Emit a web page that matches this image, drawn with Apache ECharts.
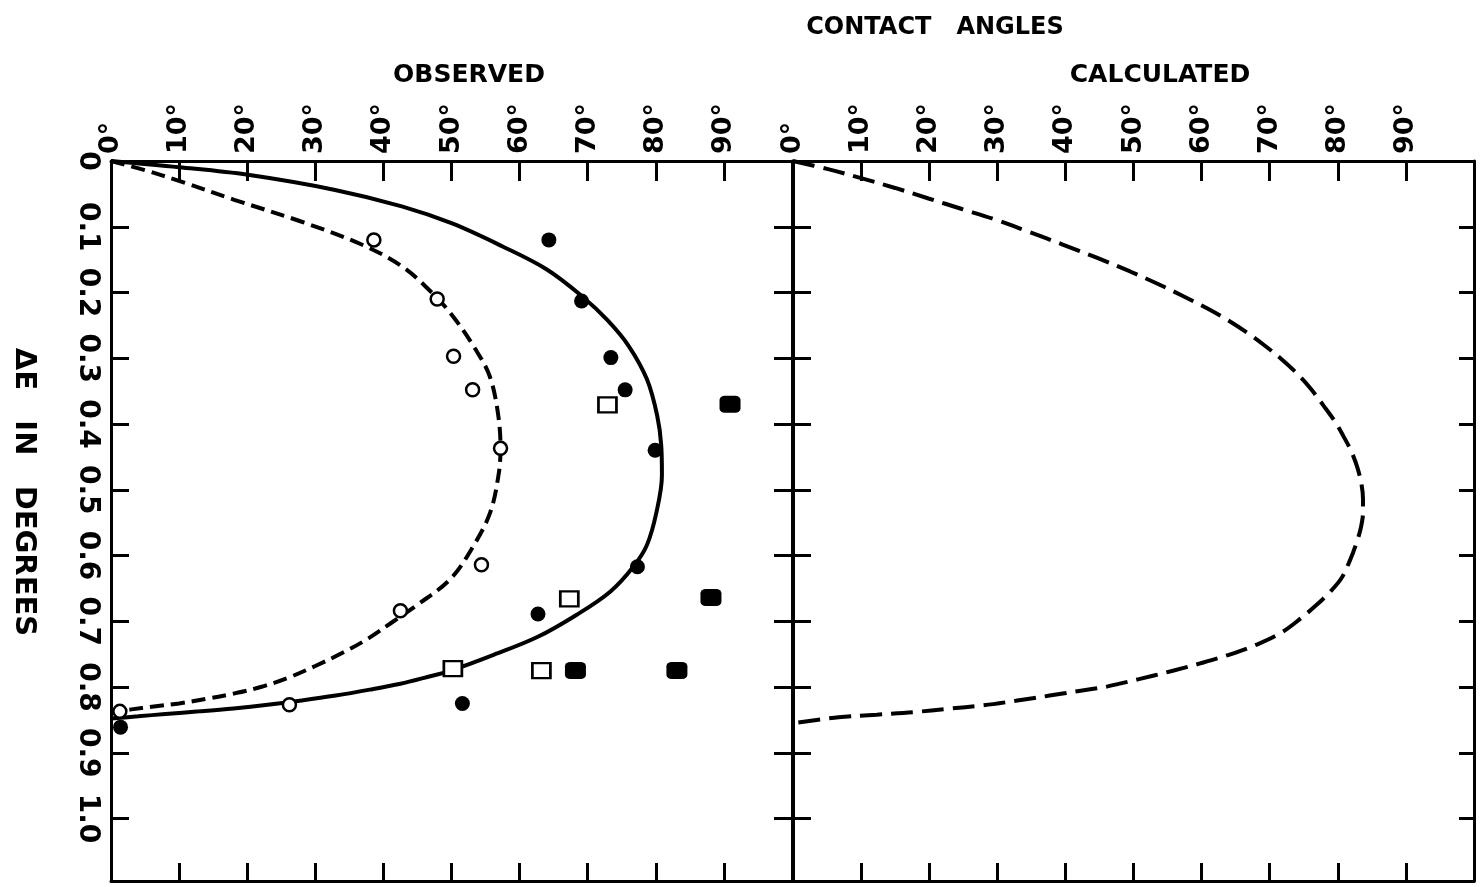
<!DOCTYPE html>
<html>
<head>
<meta charset="utf-8">
<script src="https://cdn.jsdelivr.net/npm/echarts@6/dist/echarts.min.js"></script>
<style>
  html, body { margin: 0; padding: 0; background: #fff; }
  #chart { width: 1484px; height: 887px; }
</style>
</head>
<body>
<div id="chart"></div>
<script>
// Tick labels
const angleTickLabels = ['0°', '10°', '20°', '30°', '40°', '50°', '60°', '70°', '80°', '90°'];
const deltaTickLabels = ['0', '0.1', '0.2', '0.3', '0.4', '0.5', '0.6', '0.7', '0.8', '0.9', '1.0'];

// Observed panel: fitted curves, [contact angle (deg), ΔE (deg)]
const observedSolidCurve = [
  [0, 0], [10, 0.0095], [20.1, 0.021], [32.9, 0.044], [42.7, 0.069], [50.1, 0.095],
  [57.5, 0.130], [64, 0.165], [69.2, 0.206], [72.9, 0.242], [76, 0.281], [78.7, 0.332],
  [80.2, 0.387], [80.8, 0.433], [80.9, 0.478], [80.1, 0.534], [78.7, 0.584], [76.7, 0.617],
  [73.3, 0.655], [68.4, 0.690], [62.6, 0.724], [56.2, 0.751], [49.9, 0.775], [46, 0.786],
  [42.5, 0.795], [38, 0.804], [33, 0.813], [28, 0.8205], [23, 0.827], [18, 0.8325],
  [13, 0.837], [8, 0.841], [4, 0.8445], [0, 0.848]
];
const observedDashedCurve = [
  [0, 0], [5, 0.014], [10.2, 0.031], [18.1, 0.059], [27.9, 0.092], [36.8, 0.127],
  [42.7, 0.160], [47.1, 0.200], [50.2, 0.236], [53.5, 0.286], [55.6, 0.327], [56.8, 0.382],
  [57.2, 0.437], [56.9, 0.478], [55.7, 0.534], [53.3, 0.584], [49.9, 0.635], [45, 0.675],
  [41.5, 0.700], [37.8, 0.726], [34, 0.748], [30, 0.768], [26, 0.786], [22, 0.800],
  [18, 0.810], [14, 0.818], [10, 0.825], [6, 0.830], [3, 0.834], [0, 0.838]
];

// Observed panel: measured points
const openCircles = [
  [38.6, 0.120], [47.9, 0.210], [50.3, 0.297], [53.1, 0.348], [57.2, 0.437],
  [54.4, 0.614], [42.5, 0.684], [26.2, 0.827], [1.3, 0.837]
];
const filledCircles = [
  [64.3, 0.120], [69.1, 0.213], [73.4, 0.299], [75.5, 0.348], [79.9, 0.440],
  [77.3, 0.617], [62.7, 0.689], [51.6, 0.825], [1.4, 0.861]
];
const openSquares = [[72.9, 0.371], [67.3, 0.666], [50.2, 0.772], [63.2, 0.775]];
const filledSquares = [[90.9, 0.370], [88.1, 0.664], [68.2, 0.775], [83.1, 0.775]];

// Calculated panel curve
const calculatedCurve = [
  [0, 0], [5, 0.012], [10, 0.026], [15, 0.041], [19.9, 0.057], [24.8, 0.073], [29.7, 0.089],
  [34.7, 0.108], [39.6, 0.127], [44.6, 0.147], [49.5, 0.168], [53.6, 0.187], [57.4, 0.206],
  [60.8, 0.224], [64, 0.243], [66.8, 0.262], [69.3, 0.281], [71.7, 0.301], [73.9, 0.322],
  [76, 0.346], [77.9, 0.372], [79.5, 0.395], [80.8, 0.418], [82, 0.442], [82.9, 0.467],
  [83.5, 0.493], [83.7, 0.514], [83.7, 0.534], [83.4, 0.557], [82.8, 0.579], [81.8, 0.607],
  [80.5, 0.635], [78.8, 0.656], [76.9, 0.675], [74.5, 0.696], [71.9, 0.716], [68.2, 0.735],
  [64, 0.751], [59.8, 0.764], [55.5, 0.776], [50.8, 0.788], [46.2, 0.799], [42, 0.806],
  [37.7, 0.813], [32.7, 0.821], [27.8, 0.828], [22.8, 0.833], [17.9, 0.838], [12.3, 0.842],
  [6.7, 0.846], [0, 0.855]
];

const LABEL_FONT = "'DejaVu Sans', sans-serif";
const TITLE_FONT = "'DejaVu Sans', sans-serif";
const INK = '#000';

function angleAxis(gridIndex, position, withLabels, tickLen) {
  return {
    type: 'value', gridIndex, position, min: 0, max: 100, interval: 10,
    axisLine: { show: true, onZero: false, lineStyle: { color: INK, width: 3 } },
    axisTick: { show: true, inside: true, length: tickLen, lineStyle: { color: INK, width: 3 } },
    axisLabel: {
      show: withLabels, rotate: -90, margin: 7, color: INK,
      fontFamily: LABEL_FONT, fontSize: 27, fontWeight: 'bold',
      formatter: v => angleTickLabels[Math.round(v / 10)] || ''
    },
    splitLine: { show: false }
  };
}
function deltaAxis(gridIndex, position, withLabels, tickLen) {
  return {
    type: 'value', gridIndex, position, inverse: true, min: 0, max: 1.095, interval: 0.1,
    axisLine: { show: true, onZero: false, lineStyle: { color: INK, width: 3 } },
    axisTick: { show: true, inside: true, length: tickLen, lineStyle: { color: INK, width: 3 } },
    axisLabel: {
      show: withLabels, rotate: -90, margin: 10, color: INK,
      fontFamily: LABEL_FONT, fontSize: 28, fontWeight: 'bold',
      formatter: v => deltaTickLabels[Math.round(v * 10)] || ''
    },
    splitLine: { show: false }
  };
}

const chart = echarts.init(document.getElementById('chart'), null, { renderer: 'canvas' });
chart.setOption({
  backgroundColor: '#fff',
  animation: false,
  grid: [
    { left: 111, top: 161, width: 681, height: 720 },
    { left: 793, top: 161, width: 681, height: 720 }
  ],
  xAxis: [
    angleAxis(0, 'top', true, 20),
    angleAxis(0, 'bottom', false, 18),
    angleAxis(1, 'top', true, 20),
    angleAxis(1, 'bottom', false, 18)
  ],
  yAxis: [
    deltaAxis(0, 'left', true, 18),
    deltaAxis(0, 'right', false, 18),
    deltaAxis(1, 'left', false, 18),
    deltaAxis(1, 'right', false, 15)
  ],
  graphic: [
    { type: 'text', x: 935, y: 28, style: { text: 'CONTACT   ANGLES', font: "bold 24px " + TITLE_FONT, fill: INK, textAlign: 'center', textVerticalAlign: 'middle' } },
    { type: 'text', x: 469, y: 75, style: { text: 'OBSERVED', font: "bold 25px " + TITLE_FONT, fill: INK, textAlign: 'center', textVerticalAlign: 'middle' } },
    { type: 'text', x: 1160, y: 75, style: { text: 'CALCULATED', font: "bold 25px " + TITLE_FONT, fill: INK, textAlign: 'center', textVerticalAlign: 'middle' } },
    { type: 'text', x: 24, y: 492, rotation: -Math.PI / 2, style: { text: 'ΔE   IN   DEGREES', font: "bold 29px " + TITLE_FONT, fill: INK, textAlign: 'center', textVerticalAlign: 'middle' } }
  ],
  series: [
    {
      type: 'line', xAxisIndex: 0, yAxisIndex: 0, data: observedSolidCurve,
      smooth: 0.35, showSymbol: false, lineStyle: { color: INK, width: 4 }, z: 2
    },
    {
      type: 'line', xAxisIndex: 0, yAxisIndex: 0, data: observedDashedCurve,
      smooth: 0.35, showSymbol: false, lineStyle: { color: INK, width: 4, type: [14, 7] }, z: 2
    },
    {
      type: 'scatter', xAxisIndex: 0, yAxisIndex: 0, data: openCircles, symbol: 'circle', symbolSize: 13,
      itemStyle: { color: '#fff', borderColor: INK, borderWidth: 2.5, opacity: 1 }, z: 3
    },
    {
      type: 'scatter', xAxisIndex: 0, yAxisIndex: 0, data: filledCircles, symbol: 'circle', symbolSize: 15,
      itemStyle: { color: INK, opacity: 1 }, z: 3
    },
    {
      type: 'scatter', xAxisIndex: 0, yAxisIndex: 0, data: openSquares, symbol: 'rect', symbolSize: [18, 15],
      itemStyle: { color: '#fff', borderColor: INK, borderWidth: 2.5, opacity: 1 }, z: 3
    },
    {
      type: 'scatter', xAxisIndex: 0, yAxisIndex: 0, data: filledSquares, symbol: 'roundRect', symbolSize: [21, 17],
      itemStyle: { color: INK, opacity: 1 }, z: 3
    },
    {
      type: 'line', xAxisIndex: 2, yAxisIndex: 2, data: calculatedCurve,
      smooth: 0.35, showSymbol: false, lineStyle: { color: INK, width: 4, type: [22, 9] }, z: 2
    }
  ]
});
</script>
</body>
</html>
